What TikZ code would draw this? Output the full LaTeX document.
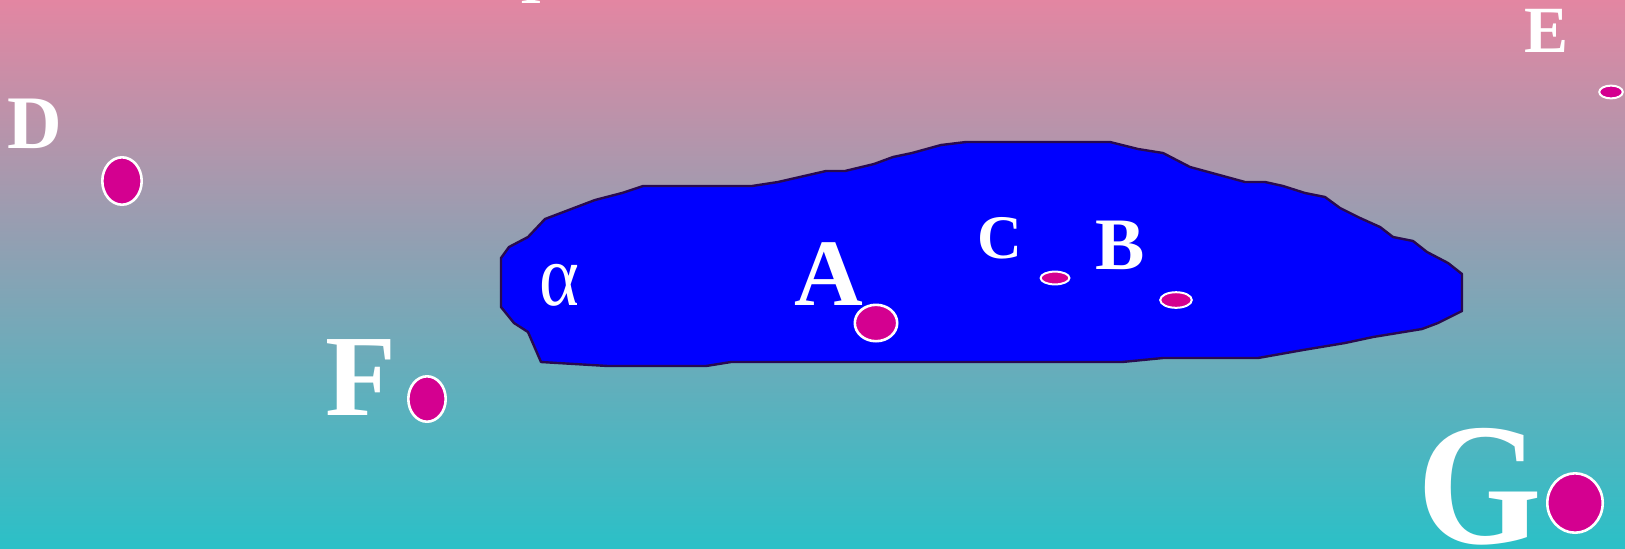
\documentclass[tikz,border=0pt]{standalone}
\usepackage{fontspec}
\setmainfont{Liberation Serif}
\definecolor{bgtop}{RGB}{227,134,162}
\definecolor{bgbot}{RGB}{43,192,199}
\definecolor{spotfill}{RGB}{212,0,144}
\definecolor{blobedge}{RGB}{40,10,80}
\begin{document}
\begin{tikzpicture}[x=0.5pt,y=-0.5pt,
  lbl/.style={text=white,inner sep=0pt,anchor=base},
  spot/.style={draw=white,fill=spotfill,line width=1.3pt},
  thinspot/.style={draw=white,fill=spotfill,line width=1pt}]
\useasboundingbox (0,0) rectangle (1625,548);
\clip (0,0) rectangle (1625,548);
\shade[top color=bgtop,bottom color=bgbot] (0,0) rectangle (1625,548);
% region alpha
\draw[fill=blue,draw=blobedge,line width=1.2pt,line join=round]
 (545,219) -- (595,200) -- (622,193) -- (643,186) -- (752,186) -- (778,182)
 -- (826,171) -- (845,171) -- (874,164) -- (893,157) -- (912,153) -- (941,145)
 -- (966,142) -- (1110,142) -- (1138,149) -- (1163,153) -- (1190,167) -- (1245,182)
 -- (1265,182) -- (1283,186) -- (1305,193) -- (1325,197) -- (1340,208) -- (1360,218)
 -- (1380,227) -- (1393,237) -- (1413,241) -- (1427,252) -- (1448,263) -- (1462,274)
 -- (1462,311) -- (1438,323) -- (1422,329) -- (1373,337) -- (1345,343) -- (1303,350)
 -- (1258,358) -- (1163,358) -- (1122,362) -- (731,362) -- (706,366) -- (608,366)
 -- (541,362) -- (528,332) -- (514,323) -- (501,307) -- (501,258) -- (509,247)
 -- (528,237) -- cycle;
% labels
\node[lbl,font=\fontsize{37.8pt}{40pt}\selectfont\bfseries] (labD) at (35,148) {D};
\node[lbl,font=\fontsize{58pt}{60pt}\selectfont\bfseries] (labF) at (361,415) {F};
\node[lbl,font=\fontsize{87pt}{90pt}\selectfont\bfseries,xscale=0.92] (labG) at (1480,543) {G};
\node[lbl,font=\fontsize{33pt}{35pt}\selectfont\bfseries] (labE) at (1546,52) {E};
\node[lbl,font=\fontsize{47.6pt}{50pt}\selectfont\bfseries] (labA) at (829,305) {A};
\node[lbl,font=\fontsize{31pt}{33pt}\selectfont\bfseries] (labC) at (1000,258) {C};
\node[lbl,font=\fontsize{37pt}{39pt}\selectfont\bfseries] (labB) at (1120,269) {B};
\node[lbl,font=\fontsize{38pt}{40pt}\selectfont,yscale=1.15] (labAlpha) at (559,305) {α};
\node[lbl,font=\fontsize{28pt}{30pt}\selectfont\bfseries] (labTop) at (531,3) {I};
% points
\draw[spot] (122,181) ellipse [x radius=9.85pt, y radius=11.85pt];
\draw[spot] (427,399) ellipse [x radius=9.35pt, y radius=11.35pt];
\draw[spot] (1575,503) ellipse [x radius=13.85pt, y radius=14.85pt];
\draw[thinspot] (1611,92) ellipse [x radius=5.9pt, y radius=3.2pt];
\draw[spot] (876,323) ellipse [x radius=10.6pt, y radius=9.1pt];
\draw[thinspot] (1055,278) ellipse [x radius=7.2pt, y radius=3.2pt];
\draw[thinspot] (1176,300) ellipse [x radius=7.9pt, y radius=3.9pt];
\end{tikzpicture}
\end{document}
